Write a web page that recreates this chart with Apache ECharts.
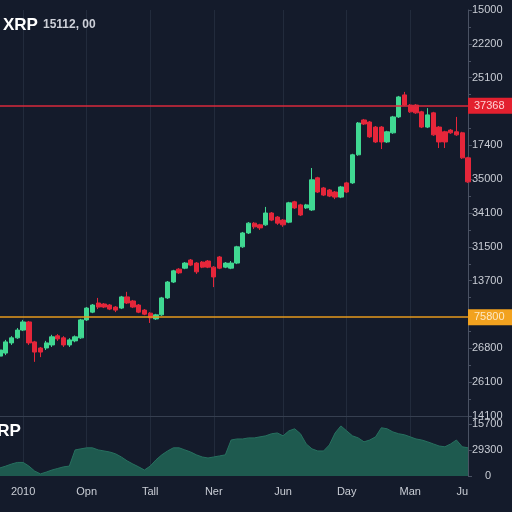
<!DOCTYPE html>
<html>
<head>
<meta charset="utf-8">
<script src="https://cdn.jsdelivr.net/npm/echarts@6/dist/echarts.min.js"></script>
<style>
  html, body { margin: 0; padding: 0; background: #141b2b; }
  #main { width: 512px; height: 512px; }
</style>
</head>
<body>
<div id="main"></div>
<script>
// candles: [open, close, low, high]
var ohlc = [
    [177,195,171,201],[186,219,180,225],[216,231,210,236],[231,254,228,260],[254,278,251,284],
    [278,216,210,281],[219,189,160,222],[201,189,174,204],[201,216,195,222],[210,234,204,240],
    [237,228,222,242],[231,210,204,236],[210,225,204,230],[222,234,218,238],[231,284,228,287],
    [284,319,281,322],[307,328,304,331],[334,322,316,349],[331,322,319,334],[328,316,313,331],
    [322,313,307,325],[319,352,316,355],[352,334,331,367],[340,322,319,343],[328,307,304,331],
    [313,301,298,316],[304,290,275,307],[287,299,284,302],[299,349,296,352],[349,396,346,399],
    [396,429,393,432],[434,423,420,437],[437,452,434,455],[461,446,443,464],[452,426,420,455],
    [455,440,437,458],[458,440,437,461],[440,411,381,443],[470,437,434,473],[440,452,437,455],
    [437,452,434,458],[452,500,449,503],[500,541,497,544],[541,570,538,573],[570,559,553,573],
    [565,556,550,568],[565,600,562,618],[600,579,576,603],[588,570,565,591],[579,565,559,582],
    [573,630,570,633],[633,615,612,636],[624,594,591,627],[615,624,612,627],[609,698,606,733],
    [704,662,659,707],[674,653,650,677],[668,650,647,671],[662,647,641,665],[647,677,644,680],
    [689,662,659,692],[689,772,686,775],[772,866,769,869],[875,863,860,878],[869,825,822,872],
    [854,810,807,857],[854,810,789,857],[810,840,807,843],[837,884,834,887],[884,943,881,946],
    [949,919,916,958],[919,899,896,922],[919,896,893,922],[899,854,851,902],[854,890,851,910],
    [896,831,828,899],[854,810,792,857],[840,810,792,843],[845,837,834,848],[840,831,828,884],
    [837,763,760,840],[763,692,689,766]
];

var volume = [
    0.31,0.38,0.46,0.52,0.52,0.38,0.19,0.08,0.15,0.23,
    0.29,0.35,0.38,1.0,1.04,1.08,1.08,1.0,0.96,0.92,
    0.85,0.73,0.58,0.46,0.35,0.23,0.38,0.62,0.81,0.96,
    1.08,1.08,1.0,0.92,0.81,0.73,0.69,0.73,0.77,0.81,
    1.38,1.42,1.42,1.46,1.46,1.5,1.54,1.62,1.65,1.54,
    1.73,1.81,1.62,1.23,1.04,0.96,0.96,1.19,1.65,1.92,
    1.73,1.54,1.46,1.31,1.38,1.5,1.85,1.81,1.69,1.62,
    1.58,1.5,1.42,1.38,1.31,1.23,1.15,1.12,1.23,1.38,
    1.12,1.08
];

var xLabels = ['2010', 'Opn', 'Tall', 'Ner', 'Jun', 'Day', 'Man', 'Ju'];
var xLabelIdx = [4, 15, 26, 37, 49, 60, 71, 80];

// price axis tick labels, bottom to top
var priceTicks = ['14100','26100','26800','','13700','31500','34100','35000','17400','','25100','22200','15000'];
var volTicks = ['0', '29300', '15700'];

var redLevel = 917, redText = '37368';
var orangeLevel = 292, orangeText = '75800';

var categories = ohlc.map(function (d, i) { return String(i); });

function isLabel(index) { return xLabelIdx.indexOf(index) >= 0; }
function isGrid(index) { return xLabelIdx.indexOf(index) >= 0 && index !== 80; }

var upColor = '#40d892';
var downColor = '#e5263a';
var gridLine = '#222b3c';
var axisColor = '#4a5263';
var labelColor = '#c9cdd5';

var myChart = echarts.init(document.getElementById('main'));
var option = {
    backgroundColor: '#141b2b',
    animation: false,
    textStyle: { fontFamily: 'Liberation Sans, Arial, sans-serif' },
    title: [{
        left: 3,
        top: 16,
        padding: 0,
        text: '{a|XRP} {b|15112, 00}',
        textStyle: {
            rich: {
                a: { fontSize: 17, fontWeight: 'bold', color: '#ffffff' },
                b: { fontSize: 12, color: '#cdd0d8' }
            }
        }
    }, {
        left: -14,
        top: 423,
        padding: 0,
        text: 'XRP',
        textStyle: { fontSize: 17, fontWeight: 'bold', color: '#ffffff' }
    }],
    grid: [
        { left: 0, right: 44, top: 10, height: 406 },
        { left: 0, right: 44, top: 416, height: 60 }
    ],
    xAxis: [{
        type: 'category',
        gridIndex: 0,
        data: categories,
        boundaryGap: false,
        axisLine: { show: true, lineStyle: { color: '#363f50' } },
        axisTick: { show: false },
        axisLabel: { show: false },
        splitLine: { show: true, interval: function (i) { return isGrid(i); }, lineStyle: { color: gridLine } }
    }, {
        type: 'category',
        gridIndex: 1,
        data: categories,
        boundaryGap: false,
        axisLine: { show: false },
        axisTick: { show: false },
        axisLabel: {
            interval: function (i) { return isLabel(i); },
            formatter: function (v, i) {
                var k = xLabelIdx.indexOf(i);
                return k >= 0 ? xLabels[k] : '';
            },
            color: labelColor,
            fontSize: 11,
            margin: 10
        },
        splitLine: { show: true, interval: function (i) { return isGrid(i); }, lineStyle: { color: gridLine } }
    }],
    yAxis: [{
        type: 'value',
        gridIndex: 0,
        position: 'right',
        min: 0,
        max: 1200,
        interval: 100,
        axisLine: { show: true, lineStyle: { color: axisColor } },
        axisTick: { show: true, length: 4, lineStyle: { color: axisColor } },
        minorTick: { show: true, splitNumber: 2, length: 3, lineStyle: { color: axisColor } },
        splitLine: { show: false },
        axisLabel: {
            color: labelColor,
            fontSize: 11,
            margin: 4,
            hideOverlap: false,
            formatter: function (v) { return priceTicks[Math.round(v / 100)] || ''; }
        }
    }, {
        type: 'value',
        gridIndex: 1,
        position: 'right',
        min: 0,
        max: 2.3,
        interval: 1,
        axisLine: { show: true, lineStyle: { color: axisColor } },
        axisTick: { show: true, length: 4, lineStyle: { color: axisColor } },
        splitLine: { show: false },
        axisLabel: {
            color: labelColor,
            fontSize: 11,
            margin: 4,
            hideOverlap: false,
            formatter: function (v) {
                if (v === 0) return '{z|0}';
                return Number.isInteger(v) ? volTicks[v] : '';
            },
            rich: { z: { padding: [0, 0, 0, 13], fontSize: 11, color: labelColor } }
        }
    }],
    series: [{
        type: 'candlestick',
        xAxisIndex: 0,
        yAxisIndex: 0,
        data: ohlc,
        barWidth: 4.8,
        itemStyle: {
            color: upColor,
            color0: downColor,
            borderColor: upColor,
            borderColor0: downColor,
            borderWidth: 1
        },
        markLine: {
            silent: true,
            symbol: ['none', 'none'],
            data: [{
                yAxis: redLevel,
                lineStyle: { color: '#d82a3c', width: 1.6, type: 'solid' },
                label: {
                    show: true, position: 'end', distance: 0,
                    formatter: redText,
                    backgroundColor: '#e3202f', color: '#ffd0d4',
                    fontSize: 11, padding: [3, 8, 2, 6]
                }
            }, {
                yAxis: orangeLevel,
                lineStyle: { color: '#e69a1c', width: 1.6, type: 'solid' },
                label: {
                    show: true, position: 'end', distance: 0,
                    formatter: orangeText,
                    backgroundColor: '#f2a21f', color: '#fde8c4',
                    fontSize: 11, padding: [3, 8, 2, 6]
                }
            }]
        }
    }, {
        type: 'line',
        xAxisIndex: 1,
        yAxisIndex: 1,
        data: volume,
        showSymbol: false,
        lineStyle: { color: '#27705f', width: 1 },
        areaStyle: { color: '#1e5a4f', opacity: 1 }
    }]
};
if (option && typeof option === "object") {
    myChart.setOption(option, true);
}
</script>
</body>
</html>
